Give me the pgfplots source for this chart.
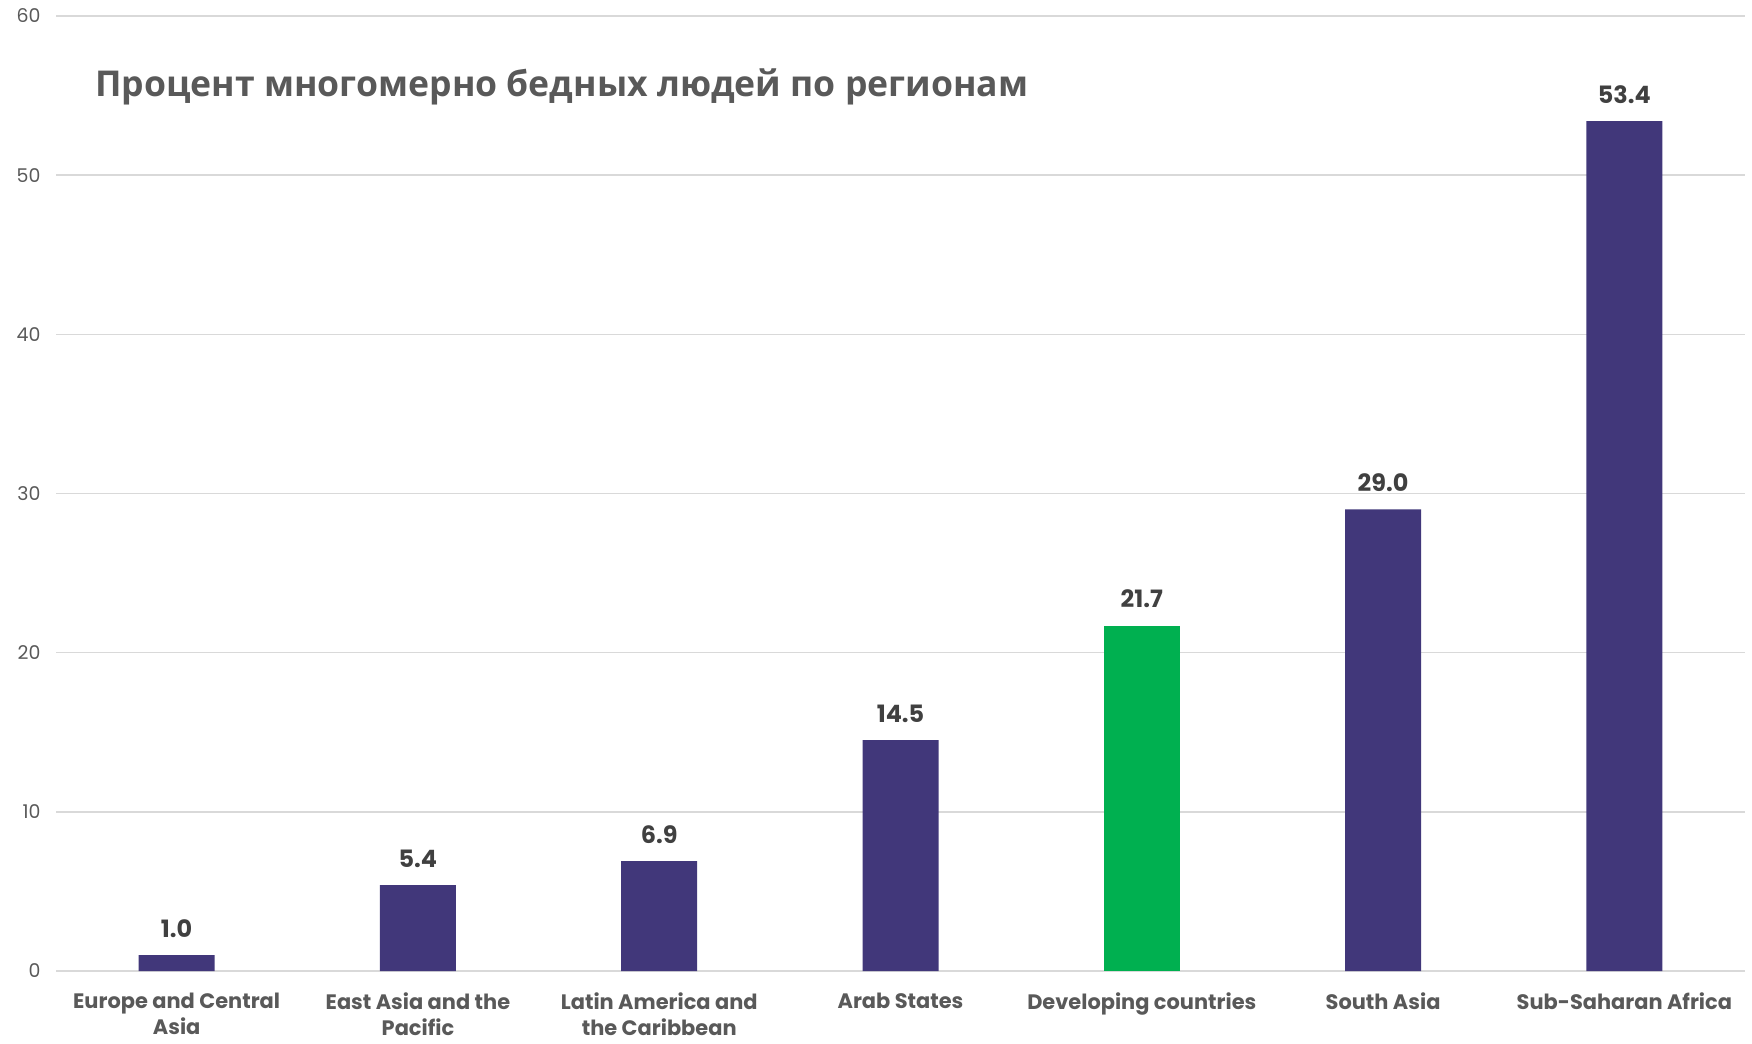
\documentclass[border=0pt]{standalone}
\usepackage{fontspec}
\usepackage{pgfplots}
\pgfplotsset{compat=1.18}
\setmainfont{Poppins}
\newfontfamily\titlefont{Open Sans}
\definecolor{barpurple}{HTML}{41377A}
\definecolor{bargreen}{HTML}{00B050}
\definecolor{gridgray}{HTML}{D9D9D9}
\definecolor{labgray}{HTML}{595959}
\definecolor{valgray}{HTML}{404040}
\begin{document}
\begin{tikzpicture}[x=1bp,y=1bp]
\useasboundingbox (0,0) rectangle (1752,1043);
\begin{axis}[
  at={(56bp,72bp)}, anchor=south west,
  scale only axis, width=1689bp, height=955bp,
  xmin=-0.5, xmax=6.5, ymin=0, ymax=60,
  ytick={0,10,...,60},
  xtick={0,...,6},
  xticklabels={{Europe and Central\\Asia},{East Asia and the\\Pacific},{Latin America and\\the Caribbean},{Arab States},{Developing countries},{South Asia},{Sub-Saharan Africa}},
  axis line style={draw=none},
  major tick length=0pt,
  ymajorgrids, grid style={gridgray, line width=1.6bp},
  yticklabel style={font=\fontsize{19}{20}\selectfont, color=labgray, anchor=east, xshift=-12bp},
  xticklabel style={font=\fontsize{21}{26.5}\selectfont\bfseries, color=labgray, align=center, anchor=north, yshift=-18bp},
  /pgf/number format/assume math mode=true,
  ybar, bar width=76bp, bar shift=0pt,
  clip=false,
  nodes near coords={\pgfmathprintnumber[fixed,precision=1,fixed zerofill,assume math mode=true]{\pgfplotspointmeta}},
  nodes near coords style={font=\fontsize{24}{26}\selectfont\bfseries, color=valgray, yshift=14bp},
]
\addplot[fill=barpurple, draw=none] coordinates {(0,1.0) (1,5.4) (2,6.9) (3,14.5) (5,29.0) (6,53.4)};
\addplot[fill=bargreen, draw=none] coordinates {(4,21.7)};
\end{axis}
\node[anchor=base west, inner sep=0, font=\titlefont\bfseries\fontsize{35.7}{38}\selectfont, text=labgray] at (95,946) {Процент многомерно бедных людей по регионам};
\end{tikzpicture}
\end{document}
